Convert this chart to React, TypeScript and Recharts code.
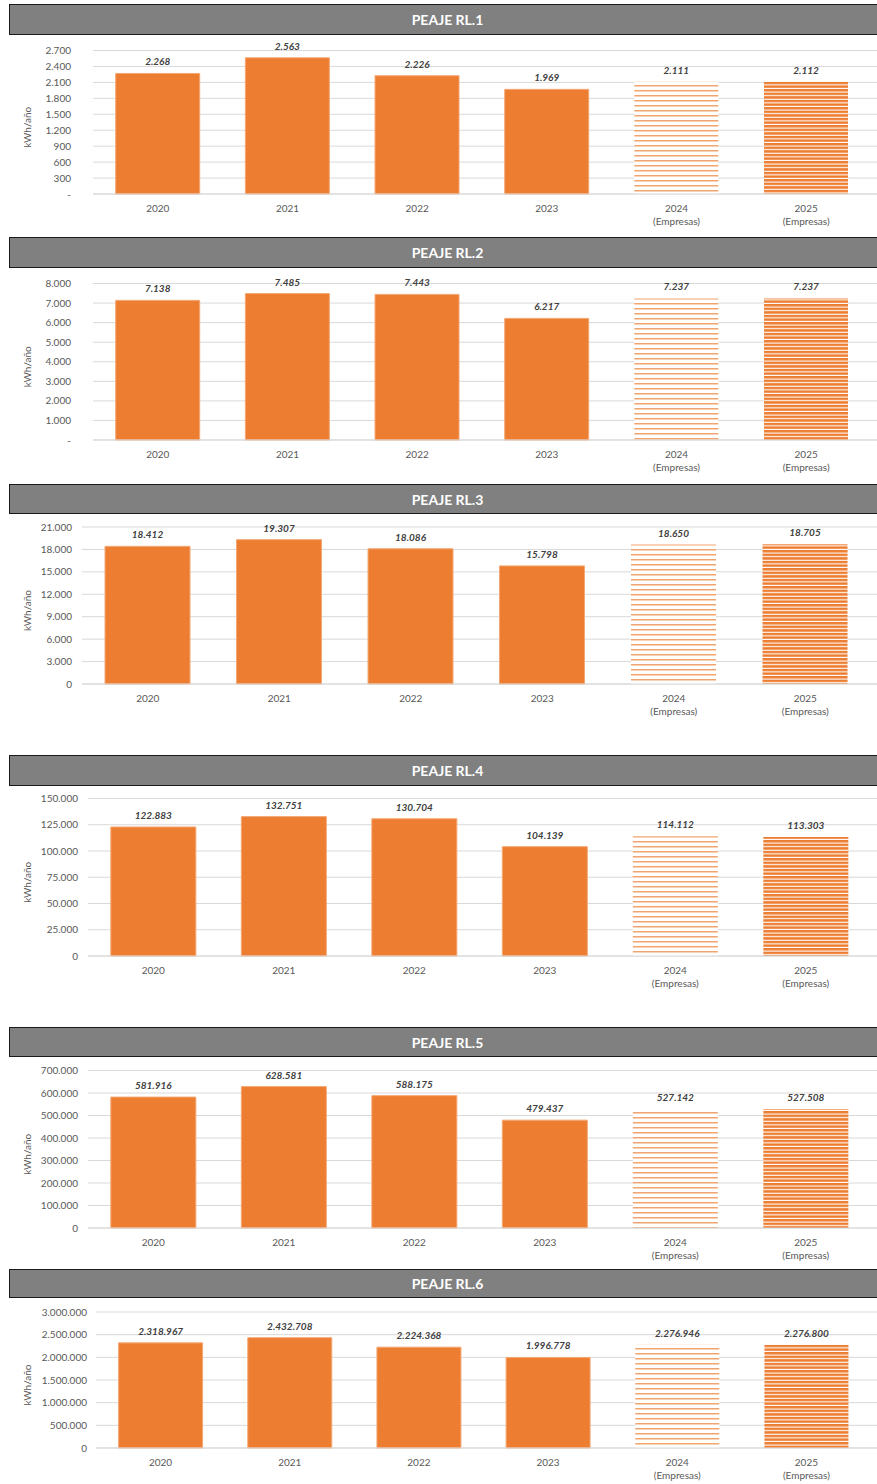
import { Bar, BarChart, CartesianGrid, Cell, LabelList, XAxis, YAxis } from 'recharts'

document.body.style.margin = '0'

const categories = ['2020', '2021', '2022', '2023', '2024', '2025']
const subLabels = ['', '', '', '', '(Empresas)', '(Empresas)']

const rl1Values = [2268, 2563, 2226, 1969, 2111, 2112]
const rl2Values = [7138, 7485, 7443, 6217, 7237, 7237]
const rl3Values = [18412, 19307, 18086, 15798, 18650, 18705]
const rl4Values = [122883, 132751, 130704, 104139, 114112, 113303]
const rl5Values = [581916, 628581, 588175, 479437, 527142, 527508]
const rl6Values = [2318967, 2432708, 2224368, 1996778, 2276946, 2276800]

const rl1Ticks = [0, 300, 600, 900, 1200, 1500, 1800, 2100, 2400, 2700]
const rl2Ticks = [0, 1000, 2000, 3000, 4000, 5000, 6000, 7000, 8000]
const rl3Ticks = [0, 3000, 6000, 9000, 12000, 15000, 18000, 21000]
const rl4Ticks = [0, 25000, 50000, 75000, 100000, 125000, 150000]
const rl5Ticks = [0, 100000, 200000, 300000, 400000, 500000, 600000, 700000]
const rl6Ticks = [0, 500000, 1000000, 1500000, 2000000, 2500000, 3000000]

const ORANGE = '#ED7D31'
const FONT = 'Lato, "Open Sans", sans-serif'

// es-ES style grouping, also for 4-digit values
const fmt = (v: number) => String(Math.round(v)).replace(/\B(?=(\d{3})+(?!\d))/g, '.')

type Panel = {
  id: string
  title: string
  values: number[]
  ticks: number[]
  zero: string
  titleTop: number
  titleBottom: number
  plotLeft: number
  plotTop: number
  plotBottom: number
  tickGap: number
}

const panels: Panel[] = [
  { id: 'rl1', title: 'PEAJE RL.1', values: rl1Values, ticks: rl1Ticks, zero: '-', titleTop: 4, titleBottom: 35, plotLeft: 93, plotTop: 50.5, plotBottom: 194, tickGap: 22 },
  { id: 'rl2', title: 'PEAJE RL.2', values: rl2Values, ticks: rl2Ticks, zero: '-', titleTop: 237, titleBottom: 268, plotLeft: 93, plotTop: 283.5, plotBottom: 440, tickGap: 22 },
  { id: 'rl3', title: 'PEAJE RL.3', values: rl3Values, ticks: rl3Ticks, zero: '0', titleTop: 484, titleBottom: 514, plotLeft: 82, plotTop: 527, plotBottom: 684, tickGap: 10 },
  { id: 'rl4', title: 'PEAJE RL.4', values: rl4Values, ticks: rl4Ticks, zero: '0', titleTop: 755, titleBottom: 786, plotLeft: 88, plotTop: 798.5, plotBottom: 956, tickGap: 10 },
  { id: 'rl5', title: 'PEAJE RL.5', values: rl5Values, ticks: rl5Ticks, zero: '0', titleTop: 1027, titleBottom: 1057, plotLeft: 88, plotTop: 1070.5, plotBottom: 1228, tickGap: 10 },
  { id: 'rl6', title: 'PEAJE RL.6', values: rl6Values, ticks: rl6Ticks, zero: '0', titleTop: 1269, titleBottom: 1298, plotLeft: 96, plotTop: 1312, plotBottom: 1448, tickGap: 9 },
]

function YearTick(props: any) {
  const { x, y, payload } = props
  const sub = subLabels[categories.indexOf(payload.value)]
  return (
    <text x={x} y={y} textAnchor="middle" fill="#595959" fontSize={10} fontFamily={FONT}>
      <tspan x={x} dy={10}>{payload.value}</tspan>
      {sub ? <tspan x={x} dy={13}>{sub}</tspan> : null}
    </text>
  )
}

function PanelChart({ p }: { p: Panel }) {
  const data = categories.map((c, i) => ({ year: c, value: p.values[i] }))
  const chartTop = p.titleBottom
  const height = p.plotBottom - chartTop + 40
  const max = p.ticks[p.ticks.length - 1]
  return (
    <>
      <div
        style={{
          position: 'absolute',
          left: 9,
          top: p.titleTop,
          width: 877 - 9,
          height: p.titleBottom - p.titleTop,
          boxSizing: 'border-box',
          background: '#808080',
          borderTop: '1.5px solid #1a1a1a',
          borderLeft: '1.5px solid #1a1a1a',
          borderBottom: '1.5px solid #1a1a1a',
          color: '#fff',
          fontFamily: FONT,
          fontWeight: 700,
          fontSize: 14,
          display: 'flex',
          alignItems: 'center',
          justifyContent: 'center',
          paddingLeft: 8,
        }}
      >
        {p.title}
      </div>
      <div style={{ position: 'absolute', left: 0, top: chartTop }}>
        <BarChart
          width={877}
          height={height}
          data={data}
          margin={{ top: p.plotTop - chartTop, right: 0, left: 0, bottom: 0 }}
          barCategoryGap="17.5%"
        >
          <defs>
            <pattern id={`${p.id}-light`} patternUnits="userSpaceOnUse" width={8} height={5}>
              <rect x={0} y={0} width={8} height={5} fill="#fff" />
              <rect x={0} y={0} width={8} height={1.5} fill="#F2A46E" />
            </pattern>
            <pattern id={`${p.id}-dense`} patternUnits="userSpaceOnUse" width={8} height={3.6}>
              <rect x={0} y={0} width={8} height={3.6} fill="#fff" />
              <rect x={0} y={0} width={8} height={2.5} fill={ORANGE} />
            </pattern>
          </defs>
          <CartesianGrid vertical={false} stroke="#D9D9D9" />
          <XAxis
            dataKey="year"
            axisLine={{ stroke: '#D9D9D9' }}
            tickLine={false}
            height={40}
            interval={0}
            padding={{ left: 0, right: 6 }}
            tick={<YearTick />}
          />
          <YAxis
            width={p.plotLeft}
            domain={[0, max]}
            ticks={p.ticks}
            interval={0}
            axisLine={false}
            tickLine={false}
            tickSize={0}
            tickMargin={p.tickGap}
            tick={{ fill: '#595959', fontSize: 10, fontFamily: FONT }}
            tickFormatter={(v: number) => (v === 0 ? p.zero : fmt(v))}
            label={{
              content: (lp: any) => {
                const vb = lp.viewBox || {}
                const cx = 27
                const cy = (vb.y ?? 0) + (vb.height ?? 0) / 2 + 5
                return (
                  <text
                    x={cx}
                    y={cy}
                    transform={`rotate(-90 ${cx} ${cy})`}
                    textAnchor="middle"
                    dominantBaseline="central"
                    fill="#595959"
                    fontSize={10}
                    fontFamily={FONT}
                  >
                    kWh/año
                  </text>
                )
              },
            }}
          />
          <Bar dataKey="value" isAnimationActive={false}>
            {data.map((d, i) => (
              <Cell
                key={d.year}
                fill={i === 4 ? `url(#${p.id}-light)` : i === 5 ? `url(#${p.id}-dense)` : ORANGE}
                stroke={i < 4 ? '#F4A874' : 'none'}
                strokeWidth={1}
              />
            ))}
            <LabelList
              dataKey="value"
              position="top"
              offset={8}
              formatter={(v: any) => fmt(Number(v))}
              style={{ fill: '#404040', fontSize: 10, fontWeight: 700, fontStyle: 'italic', fontFamily: FONT }}
            />
          </Bar>
        </BarChart>
      </div>
    </>
  )
}

export default function App() {
  return (
    <div style={{ position: 'relative', width: 877, height: 1484, background: '#fff', overflow: 'hidden' }}>
      {panels.map((p) => (
        <PanelChart key={p.id} p={p} />
      ))}
    </div>
  )
}
